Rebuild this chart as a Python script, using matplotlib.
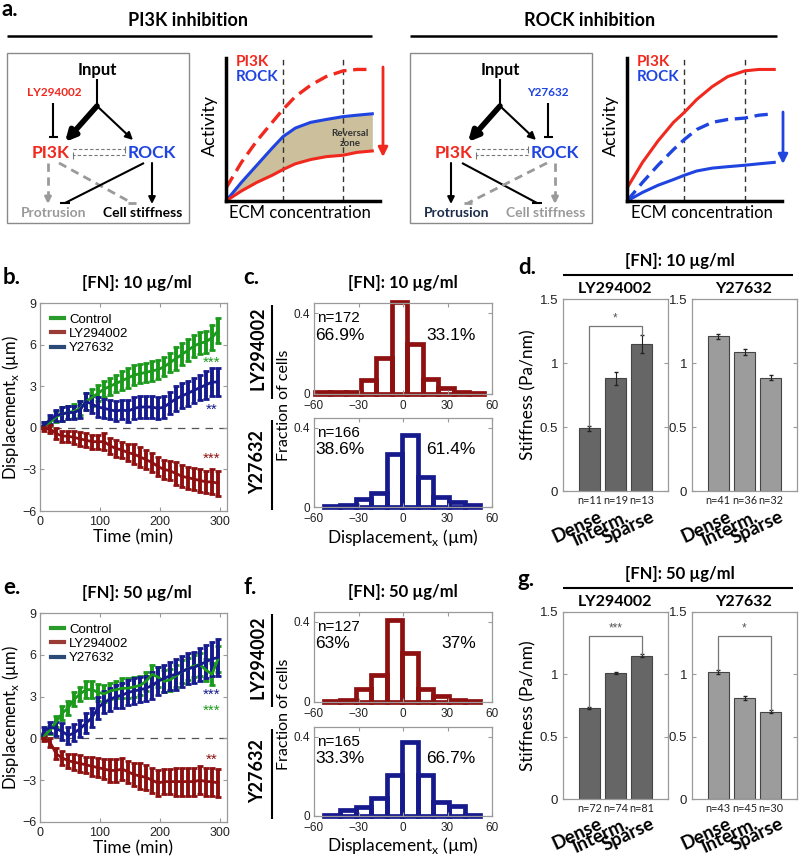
import numpy as np
import matplotlib
matplotlib.use("Agg")
import matplotlib.pyplot as plt
from matplotlib.lines import Line2D
from matplotlib.patches import Rectangle

plt.rcParams['font.family'] = ['Lato', 'DejaVu Sans']
HEL = ['Liberation Sans', 'DejaVu Sans']
CAL = ['Lato', 'DejaVu Sans']

# ---------------- data ----------------
# panel a: conceptual activity curves
ecm = [0, 0.1, 0.2, 0.3, 0.37, 0.45, 0.55, 0.65, 0.76, 0.85, 0.95]
pi3k_ctrl_L = [0.09, 0.27, 0.42, 0.55, 0.64, 0.73, 0.81, 0.87, 0.91, 0.92, 0.92]
rock_ctrl_L = [0.0, 0.13, 0.25, 0.37, 0.45, 0.51, 0.55, 0.57, 0.59, 0.60, 0.61]
pi3k_inh_L = [0.0, 0.07, 0.13, 0.18, 0.22, 0.26, 0.29, 0.31, 0.32, 0.34, 0.35]
pi3k_ctrl_R = [0.09, 0.27, 0.42, 0.55, 0.62, 0.71, 0.80, 0.87, 0.91, 0.92, 0.92]
rock_ctrl_R = [0.0, 0.13, 0.25, 0.36, 0.43, 0.50, 0.55, 0.57, 0.58, 0.60, 0.61]
rock_inh_R = [0.0, 0.06, 0.11, 0.15, 0.18, 0.21, 0.23, 0.24, 0.25, 0.26, 0.27]
ecm_marks = [0.37, 0.76]

# panels b, e: displacement time courses
time_min = [0, 7, 17, 27, 37, 47, 57, 67, 77, 87, 97, 107, 117, 127, 137, 147,
            157, 167, 177, 187, 197, 207, 217, 227, 237, 247, 257, 267, 277, 287, 297]
ctrl_10 = [0, 0.2, 0.4, 0.8, 1.0, 1.1, 1.2, 1.4, 1.9, 2.2, 2.5, 2.8, 3.0, 3.2, 3.4, 3.6,
           3.8, 3.9, 4.0, 4.1, 4.2, 4.4, 4.7, 5.0, 5.3, 5.6, 5.9, 6.1, 6.2, 6.5, 7.0]
ctrl_10_err = [0, 0.2, 0.3, 0.4, 0.5, 0.5, 0.5, 0.5, 0.6, 0.6, 0.6, 0.6, 0.6, 0.6, 0.7, 0.7,
               0.7, 0.7, 0.7, 0.7, 0.7, 0.7, 0.7, 0.8, 0.8, 0.8, 0.8, 0.8, 0.8, 0.9, 0.9]
ly_10 = [0, 0.0, -0.1, -0.4, -0.6, -0.6, -0.7, -0.8, -0.9, -1.0, -1.0, -1.0, -1.3, -1.5, -1.6, -1.8,
         -1.9, -2.1, -2.3, -2.5, -2.8, -3.0, -3.1, -3.3, -3.5, -3.6, -3.7, -3.8, -3.9, -3.9, -4.0]
ly_10_err = [0, 0.2, 0.3, 0.4, 0.4, 0.4, 0.5, 0.5, 0.5, 0.5, 0.5, 0.6, 0.6, 0.6, 0.6, 0.6,
             0.7, 0.7, 0.7, 0.7, 0.7, 0.7, 0.7, 0.8, 0.8, 0.8, 0.8, 0.8, 0.8, 0.9, 0.9]
y27_10 = [0, 0.2, 0.6, 0.9, 1.0, 1.1, 1.1, 1.3, 1.9, 1.7, 1.5, 1.4, 1.3, 1.2, 1.3, 1.2,
          1.4, 1.5, 1.5, 1.5, 1.4, 1.5, 1.8, 2.1, 2.3, 2.5, 2.7, 2.9, 3.1, 3.3, 3.3]
y27_10_err = [0, 0.2, 0.3, 0.4, 0.5, 0.5, 0.5, 0.6, 0.6, 0.6, 0.7, 0.7, 0.7, 0.7, 0.7, 0.8,
              0.8, 0.8, 0.8, 0.8, 0.8, 0.8, 0.8, 0.9, 0.9, 0.9, 0.9, 0.9, 1.0, 1.0, 1.0]
ctrl_50 = [0, 0.2, 0.6, 1.2, 1.8, 2.2, 2.8, 3.2, 3.5, 3.5, 3.3, 3.2, 3.4, 3.5, 3.6, 3.6,
           3.7, 3.8, 4.1, 4.6, 4.4, 4.1, 4.2, 4.5, 4.8, 5.0, 5.2, 5.3, 4.9, 4.6, 5.7]
ctrl_50_err = [0, 0.2, 0.3, 0.4, 0.5, 0.5, 0.5, 0.5, 0.6, 0.6, 0.6, 0.6, 0.6, 0.6, 0.7, 0.7,
               0.7, 0.7, 0.7, 0.7, 0.7, 0.8, 0.8, 0.8, 0.8, 0.8, 0.8, 0.8, 0.8, 0.8, 0.9]
ly_50 = [0, 0.0, -0.3, -1.1, -1.4, -1.6, -1.7, -1.8, -1.9, -2.0, -2.1, -2.2, -2.3, -2.3, -2.2, -2.4,
         -2.6, -2.7, -2.8, -3.0, -3.2, -3.1, -3.1, -3.1, -3.1, -3.1, -3.1, -3.0, -3.1, -3.1, -3.2]
ly_50_err = [0, 0.2, 0.3, 0.4, 0.5, 0.5, 0.6, 0.6, 0.6, 0.7, 0.7, 0.7, 0.8, 0.8, 0.8, 0.8,
             0.8, 0.9, 0.9, 0.9, 0.9, 0.9, 0.9, 1.0, 1.0, 1.0, 1.0, 1.0, 1.0, 1.0, 1.0]
y27_50 = [0, 0.5, 0.8, 0.7, 0.5, 0.2, 0.4, 0.7, 1.1, 1.5, 2.2, 2.6, 2.8, 3.0, 3.1, 3.3,
          3.4, 3.5, 3.6, 3.8, 4.1, 4.3, 4.5, 4.6, 4.8, 5.0, 5.1, 5.3, 5.5, 5.7, 5.8]
y27_50_err = [0, 0.3, 0.4, 0.5, 0.6, 0.6, 0.6, 0.6, 0.7, 0.7, 0.8, 0.8, 0.8, 0.8, 0.9, 0.9,
              0.9, 0.9, 0.9, 1.0, 1.0, 1.0, 1.0, 1.1, 1.1, 1.1, 1.1, 1.2, 1.2, 1.2, 1.3]
series_names = ['Control', 'LY294002', 'Y27632']

# panels c, f: histograms of displacement (fraction of cells)
edges_ly10 = [-59.5, -49.1, -38.7, -28.3, -17.9, -7.5, 2.9, 13.3, 23.7, 34.1, 44.5, 54.9]
hist_ly10 = [0.01, 0.01, 0.01, 0.07, 0.18, 0.455, 0.245, 0.073, 0.03, 0.01, 0.005]
edges_y10 = [-53, -42.5, -32, -21.5, -11, -0.5, 10, 20.5, 31, 41.5, 52]
hist_y10 = [0.005, 0.012, 0.04, 0.073, 0.27, 0.366, 0.15, 0.05, 0.025, 0.01]
edges_ly50 = [-53, -42.5, -32, -21.5, -11, -0.5, 10, 20.5, 31, 41.5, 52]
hist_ly50 = [0.005, 0.01, 0.067, 0.133, 0.41, 0.246, 0.067, 0.03, 0.01, 0.005]
edges_y50 = [-53, -42.5, -32, -21.5, -11, -0.5, 10, 20.5, 31, 41.5, 52]
hist_y50 = [0.005, 0.03, 0.045, 0.09, 0.205, 0.375, 0.205, 0.07, 0.05, 0.005]
hist_n = {'c_top': 'n=172', 'c_bot': 'n=166', 'f_top': 'n=127', 'f_bot': 'n=165'}
hist_pct = {'c_top': ('66.9%', '33.1%'), 'c_bot': ('38.6%', '61.4%'),
            'f_top': ('63%', '37%'), 'f_bot': ('33.3%', '66.7%')}

# panels d, g: stiffness
density = ['Dense', 'Interm.', 'Sparse']
stiff_ly10 = [0.49, 0.88, 1.15]
stiff_ly10_err = [0.02, 0.05, 0.07]
stiff_y10 = [1.21, 1.086, 0.885]
stiff_y10_err = [0.02, 0.02, 0.02]
n_ly10 = ['n=11', 'n=19', 'n=13']
n_y10 = ['n=41', 'n=36', 'n=32']
stiff_ly50 = [0.73, 1.01, 1.15]
stiff_ly50_err = [0.01, 0.01, 0.01]
stiff_y50 = [1.02, 0.81, 0.70]
stiff_y50_err = [0.015, 0.015, 0.012]
n_ly50 = ['n=72', 'n=74', 'n=81']
n_y50 = ['n=43', 'n=45', 'n=30']

# ---------------- figure ----------------
W, H = 800, 858
fig = plt.figure(figsize=(W / 100, H / 100), dpi=100)
fig.patch.set_facecolor('white')


def ax_px(x0, y0, x1, y1, **kw):
    return fig.add_axes([x0 / W, 1 - y1 / H, (x1 - x0) / W, (y1 - y0) / H], **kw)


ov = ax_px(0, 0, W, H)
ov.set_xlim(0, W)
ov.set_ylim(H, 0)
ov.axis('off')
ov.set_zorder(10)

RED = '#f0281e'
BLUE = '#1f44e0'
GREEN_TS = '#1c9a1c'
RED_TS = '#8e1010'
BLUE_TS = '#161a8c'
GRAY = '#9a9a9a'


def txt(x, y, s, size=10, color='black', weight='normal', family=CAL, **kw):
    kw.setdefault('ha', 'center')
    kw.setdefault('va', 'center')
    ov.text(x, y, s, fontsize=size, color=color, fontweight=weight, family=family, **kw)


def line(x0, y0, x1, y1, color='black', lw=1.5, ls='-', **kw):
    ov.plot([x0, x1], [y0, y1], color=color, lw=lw, ls=ls, solid_capstyle='butt', **kw)


def arrow(x0, y0, x1, y1, color='black', lw=1.5, ls='-', scale=10):
    if ls == '-':
        ov.annotate('', xy=(x1, y1), xytext=(x0, y0),
                    arrowprops=dict(arrowstyle='-|>', color=color, lw=lw,
                                    mutation_scale=scale, shrinkA=0, shrinkB=0))
    else:
        d = np.array([x1 - x0, y1 - y0], float)
        d /= np.hypot(*d)
        mx, my = x1 - d[0] * 7, y1 - d[1] * 7
        line(x0, y0, mx, my, color=color, lw=lw, ls=ls)
        ov.annotate('', xy=(x1, y1), xytext=(mx, my),
                    arrowprops=dict(arrowstyle='-|>', color=color, lw=lw,
                                    mutation_scale=scale, shrinkA=0, shrinkB=0))


def tbar(x0, y0, x1, y1, color='black', lw=1.5, ls='-', w=5, horiz=False):
    line(x0, y0, x1, y1, color=color, lw=lw, ls=ls)
    if horiz:
        px, py = 1.0, 0.0
    else:
        d = np.array([x1 - x0, y1 - y0], float)
        d /= np.hypot(*d)
        px, py = -d[1], d[0]
    line(x1 - px * w, y1 - py * w, x1 + px * w, y1 + py * w, color=color, lw=lw)


# ---------------- panel a ----------------
txt(1, 9, 'a.', size=16, weight='bold', ha='left')
txt(188, 20, 'PI3K inhibition', size=13, weight='bold')
line(7, 36, 372, 36, lw=1.8)
txt(590, 20, 'ROCK inhibition', size=13, weight='bold')
line(410, 36, 777, 36, lw=1.8)


def diagram(x0, inhibit_pi3k):
    ov.add_patch(Rectangle((x0, 53), 182, 170, fill=False, ec='#8a8a8a', lw=1.0))
    cx = x0 + 90
    txt(cx, 70, 'Input', size=12, weight='bold')
    line(cx, 79, cx, 106, lw=1.5)
    arrow(cx, 106, x0 + 58, 142, lw=4.0, scale=15)
    arrow(cx, 106, x0 + 126, 140, lw=1.5, scale=11)
    px, rx = x0 + 44, x0 + 145
    txt(px, 153, 'PI3K', size=12.5, weight='bold', color=RED)
    txt(rx, 153, 'ROCK', size=12.5, weight='bold', color=BLUE)
    tbar(x0 + 66, 149, x0 + 118, 149, color='#777', lw=0.8, ls=(0, (3, 2)), w=3.5)
    tbar(x0 + 118, 155, x0 + 66, 155, color='#777', lw=0.8, ls=(0, (3, 2)), w=3.5)
    if inhibit_pi3k:
        txt(x0 + 47, 93, 'LY294002', size=8.5, weight='bold', color=RED)
        tbar(x0 + 46, 103, x0 + 46, 137, lw=1.5, w=4.5)
        arrow(px - 3, 163, px - 3, 204, color=GRAY, lw=2, ls=(0, (3, 2)), scale=9)
        tbar(px + 8, 163, x0 + 125, 203, color=GRAY, lw=2, ls=(0, (3, 2)), w=4, horiz=True)
        tbar(rx - 8, 163, x0 + 58, 203, lw=1.5, w=5, horiz=True)
        arrow(rx, 163, rx, 204, lw=1.5, scale=10)
        txt(x0 + 47, 213, 'Protrusion', size=10, weight='bold', color=GRAY)
        txt(x0 + 136, 213, 'Cell stiffness', size=10, weight='bold', color='black')
    else:
        txt(x0 + 138, 93, 'Y27632', size=8.5, weight='bold', color=BLUE)
        tbar(x0 + 138, 103, x0 + 138, 137, lw=1.5, w=4.5)
        arrow(px - 3, 163, px - 3, 204, lw=1.5, scale=10)
        tbar(px + 8, 163, x0 + 127, 203, lw=1.5, w=5, horiz=True)
        tbar(rx - 8, 163, x0 + 58, 203, color=GRAY, lw=2, ls=(0, (3, 2)), w=4, horiz=True)
        arrow(rx, 163, rx, 204, color=GRAY, lw=2, ls=(0, (3, 2)), scale=9)
        txt(x0 + 47, 213, 'Protrusion', size=10, weight='bold', color='#1c2d4a')
        txt(x0 + 136, 213, 'Cell stiffness', size=10, weight='bold', color=GRAY)


diagram(7, True)
diagram(410, False)


def activity_axes(x0, x1):
    a = ax_px(x0, 58, x1, 201)
    a.set_xlim(0, 1)
    a.set_ylim(0, 1)
    for s in ['top', 'right']:
        a.spines[s].set_visible(False)
    for s in ['left', 'bottom']:
        a.spines[s].set_linewidth(2.5)
    a.set_xticks([])
    a.set_yticks([])
    a.patch.set_alpha(0)
    for xm in ecm_marks:
        a.axvline(xm, color='#333', lw=1, ls=(0, (4, 3)))
    return a


aL = activity_axes(226, 380)
aL.fill_between(ecm, pi3k_inh_L, rock_ctrl_L, color='#cbbf9c', lw=0)
aL.plot(ecm, pi3k_ctrl_L, color=RED, lw=2.4, ls=(0, (4, 2)))
aL.plot(ecm, rock_ctrl_L, color=BLUE, lw=2.2)
aL.plot(ecm, pi3k_inh_L, color=RED, lw=2.2)
txt(350, 133, 'Reversal', size=7, weight='bold', color='#333')
txt(350, 144, 'zone', size=7, weight='bold', color='#333')
ov.annotate('', xy=(383, 157), xytext=(383, 67),
            arrowprops=dict(arrowstyle='-|>', color=RED, lw=2, mutation_scale=14, shrinkA=0, shrinkB=0))
txt(236, 62, 'PI3K', size=11, weight='bold', color=RED, ha='left')
txt(236, 77, 'ROCK', size=11, weight='bold', color=BLUE, ha='left')
txt(210, 126, 'Activity', size=13, rotation=90)
txt(300, 213, 'ECM concentration', size=12)

aR = activity_axes(627, 782)
aR.plot(ecm, pi3k_ctrl_R, color=RED, lw=2.2)
aR.plot(ecm, rock_ctrl_R, color=BLUE, lw=2.4, ls=(0, (4, 2)))
aR.plot(ecm, rock_inh_R, color=BLUE, lw=2.2)
ov.annotate('', xy=(783, 164), xytext=(783, 112),
            arrowprops=dict(arrowstyle='-|>', color=BLUE, lw=2, mutation_scale=14, shrinkA=0, shrinkB=0))
txt(637, 62, 'PI3K', size=11, weight='bold', color=RED, ha='left')
txt(637, 77, 'ROCK', size=11, weight='bold', color=BLUE, ha='left')
txt(611, 126, 'Activity', size=13, rotation=90)
txt(702, 213, 'ECM concentration', size=12)


# ---------------- panels b, e ----------------
def matlab_axes(a):
    for s in a.spines.values():
        s.set_color('#9a9a9a')
        s.set_linewidth(0.9)
    a.tick_params(direction='in', top=True, right=True, length=3, color='#9a9a9a',
                  labelsize=9, labelcolor='#222')
    for lab in a.get_xticklabels() + a.get_yticklabels():
        lab.set_family(HEL)


def timecourse(y0, y1, series, stars, letter, title):
    a = ax_px(40, y0, 227, y1)
    for (m, e, c) in series:
        a.errorbar(time_min, m, yerr=e, color=c, lw=2.0, elinewidth=2.8, capsize=2.2,
                   capthick=2.0)
    a.axhline(0, color='#555', lw=0.9, ls=(0, (6, 5)), zorder=0)
    a.set_xlim(0, 312)
    a.set_ylim(-6, 9)
    a.set_xticks([0, 100, 200, 300])
    a.set_yticks([-6, -3, 0, 3, 6, 9])
    a.set_yticklabels(['\u22126', '\u22123', '0', '3', '6', '9'])
    matlab_axes(a)
    a.tick_params(axis='y', pad=2.5)
    handles = [Line2D([], [], color=c, lw=3) for c in ['#2a9a2a', '#9a3c36', '#2c4a78']]
    a.legend(handles, series_names, loc='upper left', frameon=False, handlelength=1.0,
             handletextpad=0.4, labelspacing=0.15, borderaxespad=0.4,
             prop={'family': HEL, 'size': 9.5})
    for (s, yv, c) in stars:
        a.text(286, yv, s, color=c, fontsize=11, ha='center', va='center', family=HEL)
    cy = (y0 + y1) / 2
    txt(11, cy, 'Displacement$_\\mathregular{x}$ (\u00b5m)', size=12, rotation=90)
    txt(133, y1 + 26, 'Time (min)', size=12.5)
    txt(137, y0 - 20, title, size=12, weight='bold')
    txt(3, y0 - 25, letter, size=16, weight='bold', ha='left')
    return a


timecourse(303, 511,
           [(ctrl_10, ctrl_10_err, GREEN_TS), (y27_10, y27_10_err, BLUE_TS), (ly_10, ly_10_err, RED_TS)],
           [('***', 4.7, GREEN_TS), ('**', 1.3, BLUE_TS), ('***', -2.2, RED_TS)],
           'b.', '[FN]: 10 \u00b5g/ml')
timecourse(613, 822,
           [(ctrl_50, ctrl_50_err, GREEN_TS), (y27_50, y27_50_err, BLUE_TS), (ly_50, ly_50_err, RED_TS)],
           [('***', 3.1, BLUE_TS), ('***', 2.0, GREEN_TS), ('**', -1.5, RED_TS)],
           'e.', '[FN]: 50 \u00b5g/ml')


# ---------------- panels c, f ----------------
def hist_axes(y0, y1, edges, heights, color, key):
    a = ax_px(314, y0, 492, y1)
    e = np.array(edges)
    a.bar(e[:-1], heights, width=np.diff(e), align='edge', facecolor='none',
          edgecolor=color, linewidth=3.4, clip_on=False)
    a.set_xlim(-60, 60)
    a.set_ylim(0, 0.45)
    a.set_xticks([-60, -30, 0, 30, 60])
    a.set_xticklabels(['\u221260', '\u221230', '0', '30', '60'])
    a.set_yticks([0, 0.4])
    a.set_yticklabels(['0', '0.4'])
    matlab_axes(a)
    a.tick_params(labelsize=8.5)
    a.tick_params(axis='x', pad=4.5)
    a.tick_params(axis='y', pad=3)
    a.text(-58, 0.375, hist_n[key], fontsize=11, family=HEL, ha='left', va='center')
    a.text(-59, 0.29, hist_pct[key][0], fontsize=12.5, family=HEL, ha='left', va='center')
    a.text(49, 0.29, hist_pct[key][1], fontsize=12.5, family=HEL, ha='right', va='center')
    return a


def hist_panel(top0, top1, bot0, bot1, d_top, d_bot, letter, title):
    hist_axes(top0, top1, d_top[0], d_top[1], RED_TS, d_top[2])
    hist_axes(bot0, bot1, d_bot[0], d_bot[1], BLUE_TS, d_bot[2])
    txt(258, (top0 + top1) / 2, 'LY294002', size=13, weight='bold', rotation=90)
    line(272, top0 + 2, 272, top1 + 5, lw=1.5)
    txt(258, (bot0 + bot1) / 2, 'Y27632', size=13, weight='bold', rotation=90)
    line(272, bot0 + 2, 272, bot1 + 3, lw=1.5)
    txt(284, (top0 + bot1) / 2, 'Fraction of cells', size=11.5, rotation=90)
    txt(403, bot1 + 30, 'Displacement$_\\mathregular{x}$ (\u00b5m)', size=12.5)
    txt(403, top0 - 20, title, size=12, weight='bold')
    txt(243, top0 - 25, letter, size=16, weight='bold', ha='left')


hist_panel(303, 394, 418, 507, (edges_ly10, hist_ly10, 'c_top'), (edges_y10, hist_y10, 'c_bot'),
           'c.', '[FN]: 10 \u00b5g/ml')
hist_panel(612, 702, 727, 816, (edges_ly50, hist_ly50, 'f_top'), (edges_y50, hist_y50, 'f_bot'),
           'f.', '[FN]: 50 \u00b5g/ml')


# ---------------- panels d, g ----------------
def stiff_axes(x0, x1, y0, y1, vals, errs, ns, color, sig):
    a = ax_px(x0, y0, x1, y1)
    pos = [1, 2, 3]
    a.bar(pos, vals, width=0.8, color=color, edgecolor='#444', linewidth=0.8)
    a.errorbar(pos, vals, yerr=errs, fmt='none', ecolor='#222', elinewidth=0.8, capsize=1.5)
    a.set_xlim(0, 4)
    a.set_ylim(0, 1.5)
    a.set_xticks([])
    a.set_yticks([0, 0.5, 1, 1.5])
    a.set_yticklabels(['0', '0.5', '1', '1.5'])
    matlab_axes(a)
    a.tick_params(labelsize=9.5)
    if sig:
        s, yb = sig
        a.plot([1, 1, 3, 3], [vals[0] + errs[0], yb, yb, vals[2] + errs[2]], color='#777', lw=0.9)
        a.text(2, yb + 0.012, s, ha='center', va='bottom', fontsize=8.5, color='#555', family=HEL)
    for p, n in zip(pos, ns):
        a.text(p, -0.035, n, ha='center', va='top', fontsize=7.8, family=CAL, color='#222')
    for p, lab in zip(pos, density):
        a.text(p + 0.32, -0.13, lab, ha='right', va='top', rotation=25, rotation_mode='anchor',
               fontsize=13.5, fontweight='bold', family=CAL)
    return a


def stiff_panel(y0, y1, ly, lye, yv, yve, nly, ny, sig_ly, sig_y, letter, title):
    stiff_axes(563, 668, y0, y1, ly, lye, nly, '#666666', sig_ly)
    stiff_axes(692, 797, y0, y1, yv, yve, ny, '#9c9c9c', sig_y)
    txt(615, y0 - 10, 'LY294002', size=11.5, weight='bold')
    txt(744, y0 - 10, 'Y27632', size=11.5, weight='bold')
    line(563, y0 - 24, 793, y0 - 24, lw=1.5)
    txt(680, y0 - 38, title, size=12, weight='bold')
    txt(528, (y0 + y1) / 2, 'Stiffness (Pa/nm)', size=12.5, rotation=90)
    txt(518, y0 - 32, letter, size=16, weight='bold', ha='left')


stiff_panel(299, 491, stiff_ly10, stiff_ly10_err, stiff_y10, stiff_y10_err, n_ly10, n_y10,
            ('*', 1.29), None, 'd.', '[FN]: 10 \u00b5g/ml')
stiff_panel(612, 799, stiff_ly50, stiff_ly50_err, stiff_y50, stiff_y50_err, n_ly50, n_y50,
            ('***', 1.31), ('*', 1.31), 'g.', '[FN]: 50 \u00b5g/ml')

fig.savefig('out.png', dpi=100, facecolor='white')
